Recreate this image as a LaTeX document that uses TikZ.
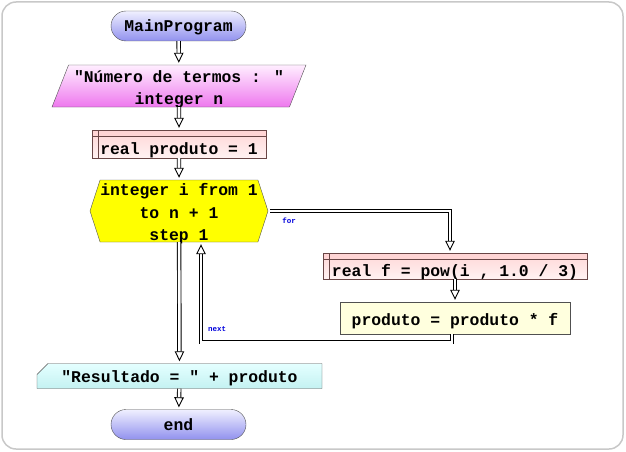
\documentclass[tikz,border=0pt]{standalone}
\usepackage{fontspec}
\newfontfamily\codefont{Liberation Mono}
\usetikzlibrary{positioning,shapes.geometric,shapes.misc,shapes.symbols,arrows.meta}
\definecolor{termtop}{RGB}{240,240,255}
\definecolor{termbot}{RGB}{145,145,238}
\definecolor{inptop}{RGB}{255,238,255}
\definecolor{inpbot}{RGB}{238,120,238}
\definecolor{proctop}{RGB}{255,214,214}
\definecolor{procbot}{RGB}{255,242,242}
\definecolor{procline}{RGB}{105,70,70}
\definecolor{loopyel}{RGB}{255,255,0}
\definecolor{loopmid}{RGB}{255,255,185}
\definecolor{assignfill}{RGB}{255,255,222}
\definecolor{outtop}{RGB}{228,255,255}
\definecolor{outbot}{RGB}{196,242,242}
\definecolor{shapeline}{RGB}{80,80,80}
\definecolor{framegray}{RGB}{200,200,200}
\definecolor{lblblue}{RGB}{0,0,220}

\begin{document}
\begin{tikzpicture}[x=1pt, y=-1pt,
  code/.style={font=\codefont\bfseries\fontsize{16.4}{22.5}\selectfont},
  term/.style={code, rounded rectangle, draw=shapeline, top color=termtop, bottom color=termbot,
    minimum width=135, minimum height=30, inner sep=0pt, text height=11pt, text depth=0pt},
  inp/.style={code, trapezium, trapezium left angle=67, trapezium right angle=113, trapezium stretches body,
    draw=shapeline, top color=inptop, bottom color=inpbot, minimum width=254, minimum height=42,
    inner sep=0pt, align=center, text height=38pt, text depth=1pt},
  proc/.style={code, rectangle, draw=procline, top color=proctop, bottom color=procbot,
    text height=22.5pt, text depth=1.5pt, inner ysep=1pt,
    path picture={
      \fill[proctop!70!red!40] (path picture bounding box.north west) rectangle ([yshift=-6pt]path picture bounding box.north east);
      \draw[procline] ([yshift=-6pt]path picture bounding box.north west) -- ([yshift=-6pt]path picture bounding box.north east);
      \draw[procline] ([xshift=6pt]path picture bounding box.north west) -- ([xshift=6pt]path picture bounding box.south west);
    }},
  loopbox/.style={code, signal, signal to=west and east, signal pointer angle=144, draw=shapeline,
    top color=loopyel, middle color=loopmid, bottom color=loopyel,
    minimum width=178, minimum height=62, inner sep=0pt, align=center, text height=60pt, text depth=1pt},
  assign/.style={code, rectangle, draw=shapeline, fill=assignfill, minimum width=230, minimum height=32,
    text height=17pt, text depth=2pt},
  outp/.style={code, chamfered rectangle, chamfered rectangle corners=north west,
    chamfered rectangle xsep=6pt, chamfered rectangle ysep=5pt, draw=shapeline,
    top color=outtop, bottom color=outbot, minimum width=285, minimum height=20, inner sep=0pt,
    text height=14pt, text depth=1pt},
  steplbl/.style={font=\codefont\bfseries\fontsize{7.5}{8}\selectfont, text=lblblue, inner sep=0pt},
  flow/.style={double, double distance=2.6pt, line width=0.9pt,
    -{Triangle[open, fill=white, length=10pt, width=9.5pt]}, shorten >=2pt}]
\useasboundingbox (0,0) rectangle (626,452);
\draw[framegray, line width=1.5pt, rounded corners=14pt] (2,2) rectangle (623,449);

\node[term] (main) at (178.5,26) {MainProgram};
\node[inp] (inp) at (179,86) {"Número de termos : "\\integer n};
\node[proc, minimum width=174, minimum height=28] (init) at (179,144) {real produto = 1};
\node[loopbox] (loop) at (179,211) {integer i from 1\\to n + 1\\step 1};
\node[proc, minimum width=264, minimum height=26] (powf) at (455,266) {real f = pow(i , 1.0 / 3)};
\node[assign] (acc) at (455,318) {produto = produto * f};
\node[outp] (res) at (179.5,376) {"Resultado = " + produto};
\node[term] (finish) at (178.5,424.5) {end};

\node[steplbl] (forlbl) at (289,221) {for};
\node[steplbl] (nextlbl) at (217,329) {next};

\draw[flow] (main) -- (inp);
\draw[flow] (inp) -- (init);
\draw[flow] (init) -- (loop);
\draw[flow] ([xshift=2pt]loop.east) -| ([xshift=-5pt]powf.north);
\draw[flow] (powf) -- (acc);
\draw[flow] ([xshift=-3pt]acc.south) -- ++(0,8) -| ([xshift=22pt]loop.south);
\draw[flow] (loop) -- (res);
\draw[flow] (res) -- (finish);
\end{tikzpicture}
\end{document}
